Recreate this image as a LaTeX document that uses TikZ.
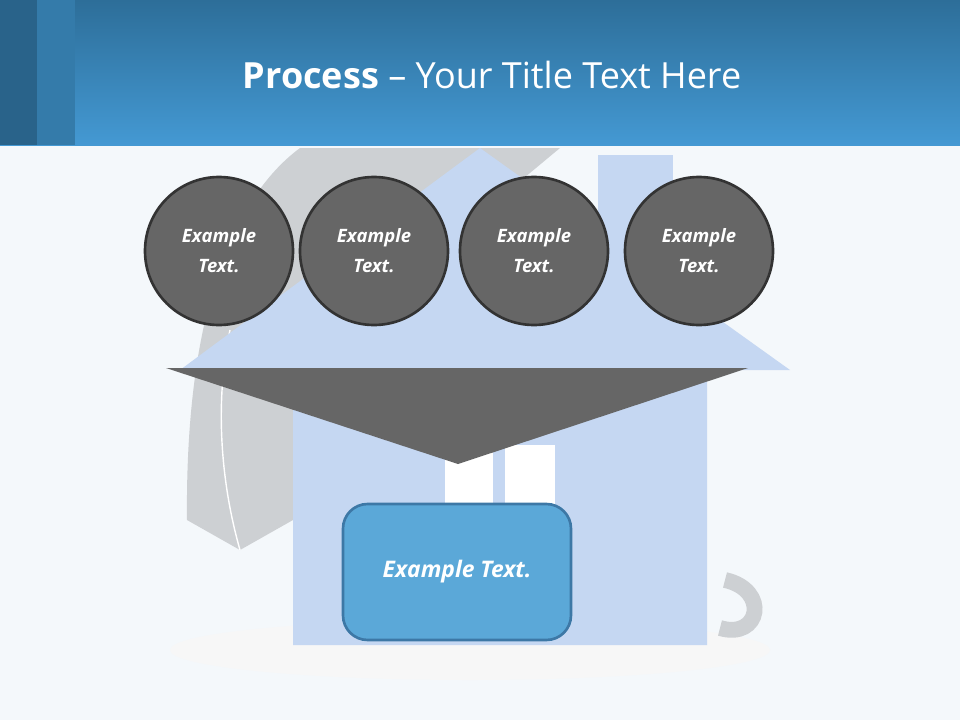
\documentclass[tikz,border=0pt]{standalone}
\usepackage{fontspec}
\setmainfont{Open Sans}
\begin{document}
\begin{tikzpicture}[x=0.02cm,y=-0.02cm,
  circ/.style={circle,draw=black!80,line width=1.5pt,fill=black!60,minimum size=148*0.02cm,inner sep=0pt,text=white,font=\bfseries\itshape\fontsize{10.5}{17}\selectfont,align=center},
  boxn/.style={rounded corners=14pt,draw=boxb,line width=1.5pt,fill=boxf,text=white,font=\bfseries\itshape\fontsize{13}{16}\selectfont,minimum width=228*0.02cm,minimum height=136*0.02cm}]
\definecolor{bg}{HTML}{F4F8FB}
\definecolor{hdtop}{HTML}{2D6E99}
\definecolor{hdbot}{HTML}{4499D3}
\definecolor{house}{HTML}{C5D7F2}
\definecolor{umb}{HTML}{CDD0D3}
\definecolor{boxf}{HTML}{5BA8D8}
\definecolor{boxb}{HTML}{3D78A6}
\useasboundingbox (0,0) rectangle (960,720);
\fill[bg] (0,0) rectangle (960,720);
% shadow
\fill[black!3] (470,650) ellipse (300 and 30);
% umbrella
\fill[umb] (300,148) .. controls (230,200) and (185,320) .. (187,520) -- (240,550) -- (293,520) -- (293,370) -- (560,148) -- cycle;
\draw[white,line width=0.8pt] (230,330) .. controls (215,400) and (220,480) .. (240,550);
\draw[umb,line width=9pt] (725,580) .. controls (770,590) and (760,640) .. (720,628);
% house
\fill[house] (598,155) rectangle (673,260);
\fill[house] (480,148) -- (790,370) -- (707,370) -- (707,645) -- (293,645) -- (293,370) -- (180,370) -- cycle;
\fill[white] (445,445) rectangle (555,505);
\fill[house] (493,445) rectangle (505,505);
% header
\shade[top color=hdtop,bottom color=hdbot] (0,0) rectangle (960,145);
\fill[hdtop!90!black] (0,0) rectangle (37,145);
\fill[hdtop!70!hdbot] (37,0) rectangle (75,145);
\node[text=white,font=\fontsize{20.5}{26}\selectfont] (title) at (492,75) {\textbf{Process} -- Your Title Text Here};
% circles
\node[circ] (c1) at (219,251) {Example\\Text.};
\node[circ] (c2) at (374,251) {Example\\Text.};
\node[circ] (c3) at (534,251) {Example\\Text.};
\node[circ] (c4) at (699,251) {Example\\Text.};
% funnel
\fill[black!60] (166,368) -- (748,368) -- (458,464) -- cycle;
\node[boxn] (b) at (457,572) {Example Text.};
\end{tikzpicture}
\end{document}
